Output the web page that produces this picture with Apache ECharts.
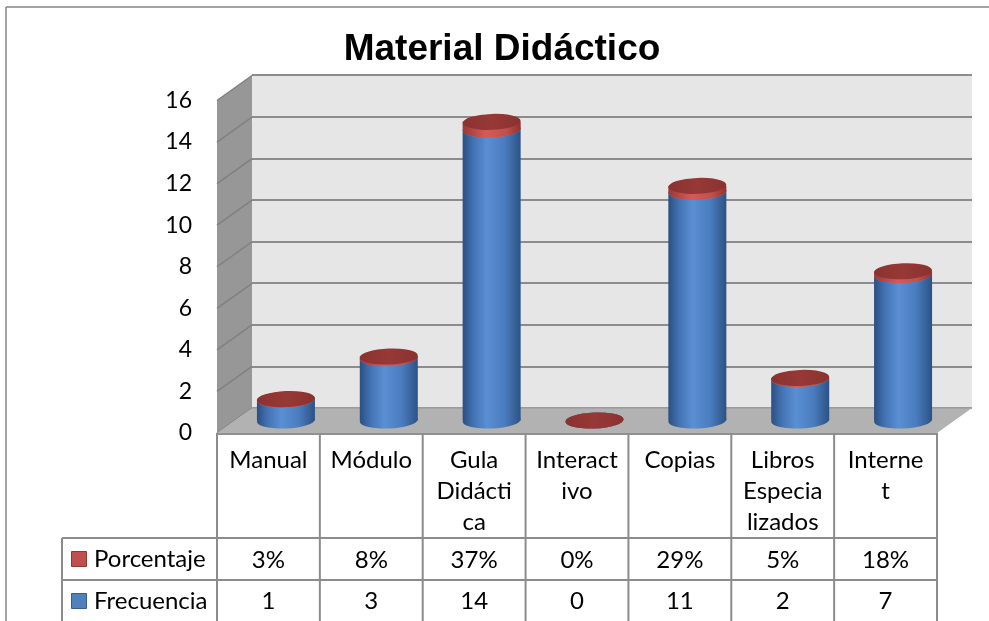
<!DOCTYPE html>
<html><head><meta charset="utf-8">
<script src="https://cdn.jsdelivr.net/npm/echarts@6/dist/echarts.min.js"></script>
<style>html,body{margin:0;padding:0;background:#fff}#c{width:989px;height:621px}</style>
</head><body><div id="c"></div>
<script>
// ---- data ----
const categories = ['Manual', 'Módulo', 'Gula Didáctica', 'Interactivo', 'Copias', 'Libros Especializados', 'Internet'];
const categoryLabels = ['Manual', 'Módulo', 'Gula\nDidácti\nca', 'Interact\nivo', 'Copias', 'Libros\nEspecia\nlizados', 'Interne\nt'];
const frecuencia = [1, 3, 14, 0, 11, 2, 7];
const porcentaje = [0.03, 0.08, 0.37, 0, 0.29, 0.05, 0.18];
const porcentajeLabels = ['3%', '8%', '37%', '0%', '29%', '5%', '18%'];
const yTicks = [0, 2, 4, 6, 8, 10, 12, 14, 16];
const seriesNames = ['Porcentaje', 'Frecuencia'];
const titleText = 'Material Didáctico';

// ---- 3D look constants (front -> back offset) ----
const DX = 35, DY = -25;
const FONT = 'Lato, Carlito, "Noto Sans", sans-serif';
const TABLE_TOP = 433, ROW1 = 538, ROW2 = 580, TABLE_BOTTOM = 625;
const LINE = '#8c8c8c';

const chart = echarts.init(document.getElementById('c'), null, {renderer: 'canvas'});

function ellipse(cx, cy, rx, ry, fill) {
  return {type: 'circle', x: cx, y: cy, rotation: 0.04, scaleX: 1, scaleY: ry / rx,
    shape: {cx: 0, cy: 0, r: rx}, style: {fill: fill}};
}
const blueGrad = () => new echarts.graphic.LinearGradient(0, 0, 1, 0, [
  {offset: 0, color: '#2b4f80'}, {offset: 0.18, color: '#4272b3'}, {offset: 0.42, color: '#5a8fd3'},
  {offset: 0.72, color: '#4a7dbf'}, {offset: 1, color: '#2c5284'}]);
const redGrad = () => new echarts.graphic.LinearGradient(0, 0, 1, 0, [
  {offset: 0, color: '#9a3835'}, {offset: 0.4, color: '#d45c58'}, {offset: 0.75, color: '#c24f4b'},
  {offset: 1, color: '#8e3331'}]);
const redTop = () => new echarts.graphic.LinearGradient(0, 0, 1, 0, [
  {offset: 0, color: '#8a3230'}, {offset: 0.5, color: '#973936'}, {offset: 1, color: '#8a3230'}]);

const option = {
  animation: false,
  backgroundColor: '#ffffff',
  grid: [
    {left: 252, top: 75, width: 720, height: 333, show: true, backgroundColor: '#e6e6e6', borderWidth: 0},
    {left: 217, top: 100.5, width: 720, height: 332.5}
  ],
  xAxis: [
    {type: 'category', gridIndex: 0, data: categories, show: false},
    {type: 'category', gridIndex: 1, data: categories, axisLine: {show: false}, axisTick: {show: false}, axisLabel: {show: false}}
  ],
  yAxis: [
    {type: 'value', gridIndex: 0, min: yTicks[0], max: yTicks[yTicks.length - 1], interval: yTicks[1] - yTicks[0],
      axisLine: {show: false}, axisTick: {show: false}, axisLabel: {show: false},
      splitLine: {lineStyle: {color: LINE, width: 2}}},
    {type: 'value', gridIndex: 1, min: yTicks[0], max: yTicks[yTicks.length - 1], interval: yTicks[1] - yTicks[0],
      axisLine: {show: false}, axisTick: {show: false}, splitLine: {show: false},
      axisLabel: {margin: 25, fontFamily: FONT, fontSize: 23, color: '#000'}}
  ],
  graphic: [
    {type: 'line', shape: {x1: 6, y1: 7, x2: 989, y2: 7}, style: {stroke: '#868686', lineWidth: 1.5}},
    {type: 'line', shape: {x1: 6, y1: 7, x2: 6, y2: 621}, style: {stroke: '#868686', lineWidth: 1.5}},
    {type: 'text', x: 502, y: 50, style: {text: titleText, align: 'center', verticalAlign: 'middle',
      font: 'bold 37px "Liberation Sans", Arial, sans-serif', fill: '#000'}},
    // series header cells of the data table
    {type: 'line', shape: {x1: 62, y1: ROW1, x2: 217, y2: ROW1}, style: {stroke: LINE, lineWidth: 2}},
    {type: 'line', shape: {x1: 62, y1: ROW2, x2: 217, y2: ROW2}, style: {stroke: LINE, lineWidth: 2}},
    {type: 'line', shape: {x1: 62, y1: ROW1, x2: 62, y2: TABLE_BOTTOM}, style: {stroke: LINE, lineWidth: 2}},
    {type: 'rect', shape: {x: 71.5, y: 551.5, width: 15, height: 15}, style: {fill: '#c0504d', stroke: '#8c3836', lineWidth: 1}},
    {type: 'text', x: 94, y: 559, style: {text: seriesNames[0], align: 'left', verticalAlign: 'middle', font: '24px ' + FONT, fill: '#000'}},
    {type: 'rect', shape: {x: 71.5, y: 593.5, width: 15, height: 15}, style: {fill: '#4f81bd', stroke: '#385d8a', lineWidth: 1}},
    {type: 'text', x: 94, y: 601, style: {text: seriesNames[1], align: 'left', verticalAlign: 'middle', font: '24px ' + FONT, fill: '#000'}}
  ],
  series: [
    { // side wall + floor
      type: 'custom', name: 'walls', xAxisIndex: 1, yAxisIndex: 1, silent: true, z: 2,
      data: [[0, 0]],
      renderItem: function (params, api) {
        const band = api.size([1, 0])[0];
        const x0 = api.coord([0, 0])[0] - band / 2;
        const x1 = api.coord([categories.length - 1, 0])[0] + band / 2;
        const yF = v => api.coord([0, v])[1];
        const top = yTicks[yTicks.length - 1];
        const ch = [];
        ch.push({type: 'polygon', shape: {points: [[x0, yF(top)], [x0 + DX, yF(top) + DY], [x0 + DX, yF(0) + DY], [x0, yF(0)]]},
          style: {fill: '#979797'}});
        yTicks.forEach(v => {
          ch.push({type: 'line', shape: {x1: x0, y1: yF(v), x2: x0 + DX, y2: yF(v) + DY}, style: {stroke: '#808080', lineWidth: 1.5}});
        });
        ch.push({type: 'polygon', shape: {points: [[x0, yF(0)], [x1, yF(0)], [x1 + DX, yF(0) + DY], [x0 + DX, yF(0) + DY]]},
          style: {fill: '#b2b2b2'}});
        ch.push({type: 'line', shape: {x1: x0 + DX, y1: yF(0) + DY, x2: x1 + DX, y2: yF(0) + DY}, style: {stroke: '#a0a0a0', lineWidth: 1.5}});
        ch.push({type: 'line', shape: {x1: x0, y1: yF(0) + 1, x2: x1, y2: yF(0) + 1}, style: {stroke: '#909090', lineWidth: 2}});
        return {type: 'group', children: ch};
      }
    },
    { // Frecuencia cylinders
      type: 'custom', name: seriesNames[1], xAxisIndex: 1, yAxisIndex: 1, z: 3,
      itemStyle: {color: '#4f81bd'},
      data: frecuencia.map((v, i) => [i, v]),
      renderItem: function (params, api) {
        const i = api.value(0), v = api.value(1);
        const band = api.size([1, 0])[0];
        const rx = band * 0.282, ry = 8;
        const cx = api.coord([i, 0])[0] + DX / 2;
        const y0 = api.coord([i, 0])[1] + DY / 2;
        const y1 = api.coord([i, v])[1] + DY / 2;
        return {type: 'group', children: [
          ellipse(cx, y0, rx, ry, blueGrad()),
          {type: 'rect', shape: {x: cx - rx, y: y1, width: 2 * rx, height: Math.max(0, y0 - y1)}, style: {fill: blueGrad()}},
          ellipse(cx, y1, rx, ry, '#5a8fd3')
        ]};
      }
    },
    { // Porcentaje caps (stacked on top of Frecuencia)
      type: 'custom', name: seriesNames[0], xAxisIndex: 1, yAxisIndex: 1, z: 4,
      itemStyle: {color: '#c0504d'},
      data: porcentaje.map((p, i) => [i, frecuencia[i], p]),
      renderItem: function (params, api) {
        const i = api.value(0), base = api.value(1), p = api.value(2);
        const band = api.size([1, 0])[0];
        const rx = band * 0.282, ry = 8;
        const cx = api.coord([i, 0])[0] + DX / 2;
        const yb = api.coord([i, base])[1] + DY / 2;
        const yt = api.coord([i, base + p])[1] + DY / 2;
        return {type: 'group', children: [
          ellipse(cx, yb, rx, ry, redGrad()),
          {type: 'rect', shape: {x: cx - rx, y: yt, width: 2 * rx, height: Math.max(0, yb - yt)}, style: {fill: redGrad()}},
          ellipse(cx, yt, rx, ry, redTop())
        ]};
      }
    },
    { // data table columns
      type: 'custom', name: 'table', xAxisIndex: 1, yAxisIndex: 1, silent: true, z: 5,
      data: categories.map((c, i) => [i, 0]),
      renderItem: function (params, api) {
        const i = api.value(0);
        const band = api.size([1, 0])[0];
        const cx = api.coord([i, 0])[0];
        const xl = cx - band / 2, xr = cx + band / 2;
        const font = '24px ' + FONT;
        const ch = [
          {type: 'line', shape: {x1: xl, y1: TABLE_TOP, x2: xl, y2: TABLE_BOTTOM}, style: {stroke: LINE, lineWidth: 2}},
          {type: 'line', shape: {x1: xl, y1: ROW1, x2: xr, y2: ROW1}, style: {stroke: LINE, lineWidth: 2}},
          {type: 'line', shape: {x1: xl, y1: ROW2, x2: xr, y2: ROW2}, style: {stroke: LINE, lineWidth: 2}},
          {type: 'text', x: cx, y: 444.5, style: {text: categoryLabels[i], align: 'center', verticalAlign: 'top', lineHeight: 31, font: font, fill: '#000'}},
          {type: 'text', x: cx, y: 560, style: {text: porcentajeLabels[i], align: 'center', verticalAlign: 'middle', font: font, fill: '#000'}},
          {type: 'text', x: cx, y: 601.5, style: {text: String(frecuencia[i]), align: 'center', verticalAlign: 'middle', font: font, fill: '#000'}}
        ];
        if (i === categories.length - 1) {
          ch.push({type: 'line', shape: {x1: xr, y1: TABLE_TOP, x2: xr, y2: TABLE_BOTTOM}, style: {stroke: LINE, lineWidth: 2}});
        }
        return {type: 'group', children: ch};
      }
    }
  ]
};
chart.setOption(option);
</script>
</body></html>
